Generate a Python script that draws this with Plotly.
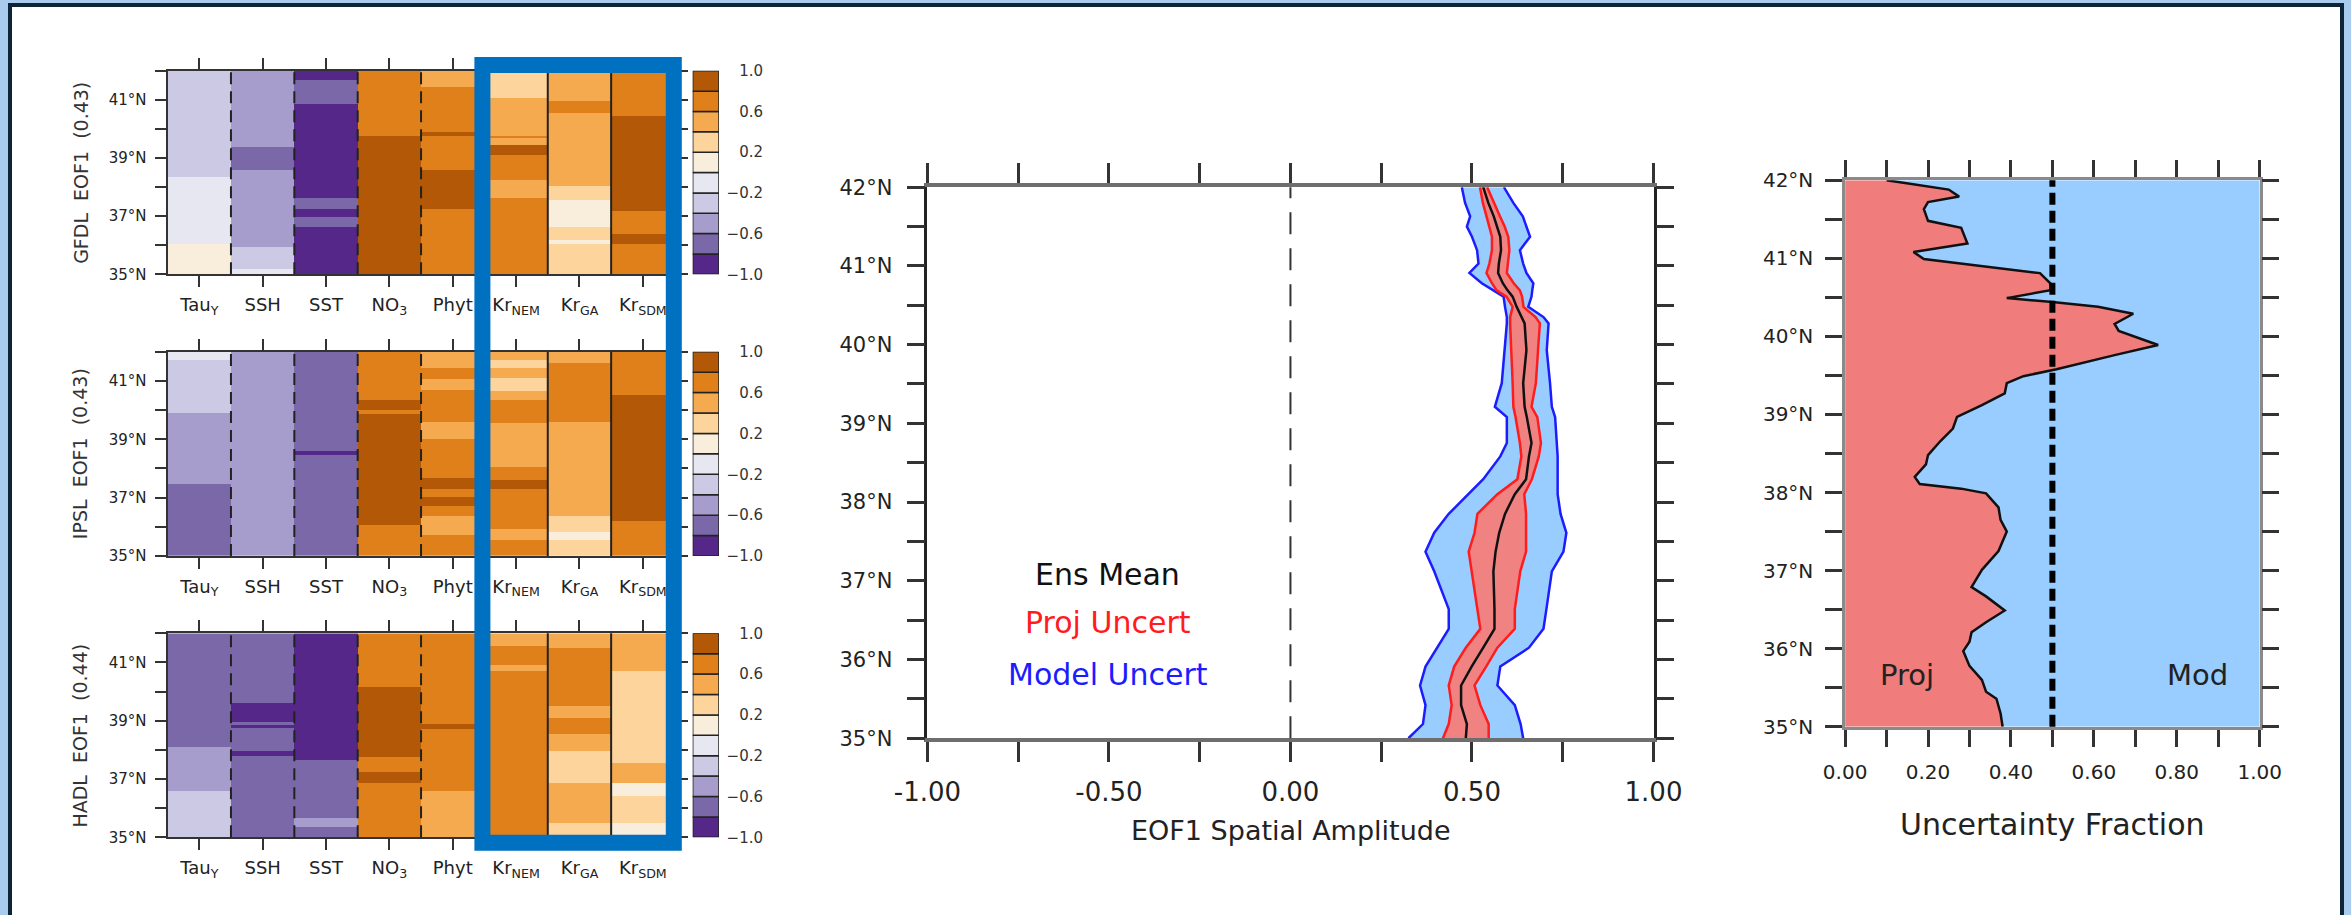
import numpy as np
import plotly.graph_objects as go

W, H = 2351, 915
FONT = "DejaVu Sans, Liberation Sans, sans-serif"

# ---------------- data ----------------
VAR_LABELS = ["Tau<sub>Y</sub>", "SSH", "SST", "NO<sub>3</sub>", "Phyt",
              "Kr<sub>NEM</sub>", "Kr<sub>GA</sub>", "Kr<sub>SDM</sub>"]
PANEL_TITLES = ["GFDL\u00a0 EOF1\u00a0 (0.43)", "IPSL\u00a0 EOF1\u00a0 (0.43)", "HADL\u00a0 EOF1\u00a0 (0.44)"]

BIN_EDGES = [-1.0, -0.8, -0.6, -0.4, -0.2, 0.0, 0.2, 0.4, 0.6, 0.8, 1.0]
BIN_COLORS = ["#542788", "#7b68a8", "#a79dcc", "#cbc9e3", "#e7e7f1",
              "#f9eddc", "#fdd49c", "#f6aa50", "#e0801a", "#b35806"]
CB_TICKS = [-1.0, -0.6, -0.2, 0.2, 0.6, 1.0]
CB_TICKTEXT = ["\u22121.0", "\u22120.6", "\u22120.2", "0.2", "0.6", "1.0"]

# each column: (latitude of each segment top, from 42N southwards), (loading of each segment)
GFDL_COLS = [
    ([42, 38.36, 36.06], [-0.3, -0.1, 0.1]),
    ([42, 39.42, 38.59, 35.95, 35.2], [-0.5, -0.7, -0.5, -0.3, -0.1]),
    ([42, 41.69, 40.85, 37.67, 37.27, 37.0, 36.64], [-0.9, -0.7, -0.9, -0.7, -0.9, -0.7, -0.9]),
    ([42, 39.74], [0.7, 0.9]),
    ([42, 41.46, 39.9, 39.76, 38.59, 37.27], [0.5, 0.7, 0.9, 0.7, 0.9, 0.7]),
    ([42, 41.04, 39.77, 39.69, 39.45, 39.1, 38.25, 37.67], [0.3, 0.5, 0.7, 0.5, 0.9, 0.7, 0.5, 0.7]),
    ([42, 40.94, 40.54, 38.07, 37.56, 36.64, 36.18, 36.06], [0.5, 0.7, 0.5, 0.3, 0.1, 0.3, 0.1, 0.3]),
    ([42, 40.43, 37.21, 36.41, 36.06], [0.7, 0.9, 0.7, 0.9, 0.7]),
]
IPSL_COLS = [
    ([42, 41.71, 39.91, 37.47], [-0.1, -0.3, -0.5, -0.7]),
    ([42], [-0.5]),
    ([42, 38.6, 38.47], [-0.7, -0.9, -0.7]),
    ([42, 40.34, 40.0, 39.85, 36.06], [0.7, 0.9, 0.7, 0.9, 0.7]),
    ([42, 41.43, 41.03, 40.69, 39.60, 38.98, 37.66, 37.32, 36.98, 36.69, 36.35, 35.72],
     [0.5, 0.7, 0.5, 0.7, 0.5, 0.7, 0.9, 0.7, 0.9, 0.7, 0.5, 0.7]),
    ([42, 41.71, 41.43, 41.09, 40.63, 40.34, 39.55, 38.06, 37.6, 37.32, 35.89, 35.55],
     [0.5, 0.3, 0.5, 0.3, 0.5, 0.7, 0.5, 0.7, 0.9, 0.7, 0.5, 0.7]),
    ([42, 41.6, 39.6, 36.35, 35.78, 35.57], [0.5, 0.7, 0.5, 0.3, 0.1, 0.3]),
    ([42, 40.52, 36.18], [0.7, 0.9, 0.7]),
]
HADL_COLS = [
    ([42, 38.11, 36.62], [-0.7, -0.5, -0.3]),
    ([42, 39.6, 38.97, 38.85, 38.77, 37.94, 37.82], [-0.7, -0.9, -0.7, -0.9, -0.7, -0.9, -0.7]),
    ([42, 37.66, 35.65, 35.36], [-0.9, -0.7, -0.5, -0.7]),
    ([42, 40.17, 37.77, 37.25, 36.85], [0.7, 0.9, 0.7, 0.9, 0.7]),
    ([42, 38.91, 38.68, 36.62], [0.7, 0.9, 0.7, 0.5]),
    ([42, 41.54, 40.91, 40.68], [0.5, 0.7, 0.5, 0.7]),
    ([42, 41.49, 39.48, 39.08, 38.57, 37.94, 36.85, 35.48], [0.5, 0.7, 0.5, 0.7, 0.5, 0.3, 0.5, 0.3]),
    ([42, 40.68, 37.54, 36.85, 36.39, 35.48], [0.5, 0.3, 0.5, 0.1, 0.3, 0.1]),
]

# middle panel: EOF1 spatial amplitude
MID_LAT = [42.00, 41.80, 41.63, 41.50, 41.37, 41.20, 41.03, 40.91, 40.78, 40.69, 40.61, 40.48,
           40.35, 40.27, 39.93, 39.51, 39.21, 39.08, 38.75, 38.58, 38.29, 38.10, 37.85, 37.61,
           37.37, 37.12, 36.64, 36.39, 36.15, 35.91, 35.67, 35.42, 35.18, 35.00]
MOD_LO = [0.472, 0.481, 0.495, 0.486, 0.500, 0.514, 0.518, 0.493, 0.527, 0.560, 0.587, 0.591,
          0.596, 0.596, 0.590, 0.582, 0.563, 0.596, 0.596, 0.578, 0.531, 0.491, 0.436, 0.396,
          0.372, 0.396, 0.436, 0.436, 0.404, 0.372, 0.357, 0.372, 0.365, 0.325]
PROJ_LO = [0.522, 0.530, 0.540, 0.548, 0.555, 0.555, 0.548, 0.540, 0.555, 0.568, 0.595, 0.612,
           0.605, 0.605, 0.609, 0.612, 0.614, 0.620, 0.632, 0.636, 0.625, 0.570, 0.515, 0.507,
           0.491, 0.499, 0.515, 0.523, 0.483, 0.451, 0.436, 0.444, 0.436, 0.420]
ENS_MEAN = [0.531, 0.545, 0.560, 0.568, 0.578, 0.580, 0.574, 0.572, 0.585, 0.598, 0.612, 0.623,
            0.638, 0.645, 0.650, 0.641, 0.645, 0.651, 0.664, 0.657, 0.649, 0.618, 0.591, 0.575,
            0.565, 0.559, 0.562, 0.562, 0.531, 0.499, 0.470, 0.470, 0.486, 0.483]
PROJ_HI = [0.542, 0.560, 0.577, 0.590, 0.600, 0.603, 0.598, 0.596, 0.615, 0.632, 0.638, 0.642,
           0.675, 0.687, 0.682, 0.676, 0.664, 0.680, 0.690, 0.684, 0.665, 0.644, 0.649, 0.649,
           0.649, 0.633, 0.618, 0.618, 0.570, 0.539, 0.507, 0.523, 0.546, 0.546]
MOD_HI = [0.588, 0.614, 0.640, 0.651, 0.660, 0.632, 0.641, 0.650, 0.669, 0.666, 0.664, 0.655,
          0.697, 0.711, 0.706, 0.715, 0.720, 0.729, 0.733, 0.736, 0.736, 0.736, 0.744, 0.760,
          0.752, 0.720, 0.705, 0.697, 0.657, 0.578, 0.570, 0.618, 0.634, 0.641]

# right panel: projection share of the uncertainty
FRAC_LAT = [42.00, 41.88, 41.79, 41.72, 41.63, 41.48, 41.39, 41.19, 41.08, 40.99, 40.81, 40.68,
            40.59, 40.49, 40.44, 40.38, 40.29, 40.16, 40.07, 39.89, 39.76, 39.58, 39.49, 39.40,
            39.27, 39.12, 38.97, 38.82, 38.66, 38.48, 38.36, 38.20, 38.11, 38.05, 37.99, 37.81,
            37.65, 37.50, 37.25, 37.01, 36.79, 36.67, 36.49, 36.34, 36.21, 36.09, 35.97, 35.78,
            35.60, 35.45, 35.36, 35.17, 35.00]
PROJ_FRAC = [0.10, 0.25, 0.275, 0.20, 0.19, 0.20, 0.28, 0.295, 0.165, 0.19, 0.47, 0.495,
             0.495, 0.39, 0.50, 0.61, 0.695, 0.65, 0.66, 0.755, 0.65, 0.51, 0.43, 0.39,
             0.385, 0.33, 0.27, 0.26, 0.23, 0.20, 0.195, 0.168, 0.18, 0.28, 0.34, 0.37,
             0.375, 0.39, 0.37, 0.33, 0.305, 0.34, 0.385, 0.34, 0.305, 0.30, 0.285, 0.30,
             0.33, 0.34, 0.365, 0.375, 0.38]
MOD_FRAC = [round(1 - p, 3) for p in PROJ_FRAC]

LAT_MAJOR_ODD = [35, 37, 39, 41]
LAT_MAJOR_ODD_TEXT = ["35\u00b0N", "37\u00b0N", "39\u00b0N", "41\u00b0N"]
LAT_MINOR_EVEN = [36, 38, 40, 42]
LAT_MAJOR = [35, 36, 37, 38, 39, 40, 41, 42]
LAT_MAJOR_TEXT = ["35\u00b0N", "36\u00b0N", "37\u00b0N", "38\u00b0N", "39\u00b0N", "40\u00b0N",
                  "41\u00b0N", "42\u00b0N"]
LAT_MINOR_HALF = [35.5, 36.5, 37.5, 38.5, 39.5, 40.5, 41.5]
MID_XMAJOR = [-1.0, -0.5, 0.0, 0.5, 1.0]
MID_XTEXT = ["-1.00", "-0.50", "0.00", "0.50", "1.00"]
MID_XMINOR = [-0.75, -0.25, 0.25, 0.75]
FR_MAJOR = [0.0, 0.2, 0.4, 0.6, 0.8, 1.0]
FR_TEXT = ["0.00", "0.20", "0.40", "0.60", "0.80", "1.00"]
FR_MINOR = [0.1, 0.3, 0.5, 0.7, 0.9]

# ---------------- helpers ----------------
def xdom(a, b):
    return [a / W, b / W]

def ydom(top, bot):
    return [1 - bot / H, 1 - top / H]

LAT_GRID = np.round(np.arange(35.025, 42.0, 0.05), 3)

def column_field(cols):
    z = np.zeros((len(LAT_GRID), len(cols)))
    for j, (tops, vals) in enumerate(cols):
        for i, lat in enumerate(LAT_GRID):
            k = sum(1 for t in tops if t >= lat) - 1
            z[i, j] = vals[k]
    return z

def minor(vals, ln, w, col):
    return dict(tickmode="array", tickvals=vals, ticks="outside", ticklen=ln, tickwidth=w,
                tickcolor=col, showgrid=False)

colorscale = []
for i, c in enumerate(BIN_COLORS):
    colorscale += [[i / 10, c], [(i + 1) / 10, c]]

fig = go.Figure()
layout = dict(width=W, height=H, margin=dict(l=0, r=0, t=0, b=0, pad=0, autoexpand=False),
              paper_bgcolor="#a8cbee", plot_bgcolor="white", showlegend=False,
              font=dict(family=FONT, color="#222"))
shapes, annotations = [], []

HM_X = (167.6, 674.5)
HM_Y = [(70.8, 274.3), (351.7, 556.0), (633.3, 837.3)]
CB_X = (692.7, 719.0)

for p, cols in enumerate([GFDL_COLS, IPSL_COLS, HADL_COLS]):
    i = p + 1
    xa, ya = ("x" if i == 1 else f"x{i}"), ("y" if i == 1 else f"y{i}")
    fig.add_trace(go.Heatmap(z=column_field(cols), x=list(range(8)), y=LAT_GRID,
                             colorscale=colorscale, zmin=-1, zmax=1, showscale=False,
                             xaxis=xa, yaxis=ya, hoverinfo="skip"))
    layout["xaxis" if i == 1 else f"xaxis{i}"] = dict(
        domain=xdom(*HM_X), range=[-0.5, 7.5], anchor=ya, tickmode="array",
        tickvals=list(range(8)), ticktext=VAR_LABELS, ticks="outside", ticklen=11,
        tickwidth=2, tickcolor="#333", mirror="allticks", showline=True, linecolor="#333",
        linewidth=2, showgrid=False, zeroline=False, tickfont=dict(size=18),
        ticklabelstandoff=2, automargin=False)
    layout["yaxis" if i == 1 else f"yaxis{i}"] = dict(
        domain=ydom(*HM_Y[p]), range=[35, 42], anchor=xa, tickmode="array",
        tickvals=LAT_MAJOR_ODD, ticktext=LAT_MAJOR_ODD_TEXT, ticks="outside", ticklen=11,
        tickwidth=2, tickcolor="#333", mirror="allticks", showline=True, linecolor="#333",
        linewidth=2, showgrid=False, zeroline=False, tickfont=dict(size=15),
        ticklabelstandoff=5, automargin=False, minor=minor(LAT_MINOR_EVEN, 11, 2, "#333"))
    # column separators
    for k in range(7):
        shapes.append(dict(type="line", xref=xa, yref=f"{ya} domain", x0=k + 0.5, x1=k + 0.5,
                           y0=0, y1=1,
                           line=dict(color="#222", width=2, dash=("12px,7px" if k < 5 else "solid"))))
    annotations.append(dict(text=PANEL_TITLES[p], xref="paper", yref="paper",
                            x=80.3 / W, y=1 - (HM_Y[p][0] + HM_Y[p][1]) / 2 / H,
                            textangle=-90, showarrow=False, font=dict(size=19, color="#333"),
                            xanchor="center", yanchor="middle"))
    # colour key as stacked bins
    j = i + 3
    fig.add_trace(go.Bar(x=[0] * 10, y=list(np.diff(BIN_EDGES)), base=BIN_EDGES[:-1], width=1,
                         marker=dict(color=BIN_COLORS, line=dict(color="#222", width=1.5)),
                         xaxis=f"x{j}", yaxis=f"y{j}", hoverinfo="skip"))
    layout[f"xaxis{j}"] = dict(domain=xdom(*CB_X), range=[-0.5, 0.5], anchor=f"y{j}",
                               visible=False, fixedrange=True, automargin=False)
    layout[f"yaxis{j}"] = dict(domain=ydom(*HM_Y[p]), range=[-1, 1], anchor="free",
                               position=763 / W, side="left", tickmode="array",
                               tickvals=CB_TICKS, ticktext=CB_TICKTEXT, ticks="",
                               showline=False, showgrid=False, zeroline=False,
                               tickfont=dict(size=15, color="#333"), automargin=False)

# highlight box around the Kr columns
shapes.append(dict(type="rect", xref="paper", yref="paper", x0=482.4 / W, x1=673.8 / W,
                   y0=1 - 842.8 / H, y1=1 - 65 / H, line=dict(color="#0070c0", width=16),
                   fillcolor="rgba(0,0,0,0)", layer="above"))

# ---------------- middle panel ----------------
MX, MY = "x7", "y7"
fig.add_trace(go.Scatter(x=MOD_LO, y=MID_LAT, mode="lines", line=dict(color="#1c1cff", width=2.5),
                         xaxis=MX, yaxis=MY, hoverinfo="skip"))
fig.add_trace(go.Scatter(x=MOD_HI, y=MID_LAT, mode="lines", line=dict(color="#1c1cff", width=2.5),
                         fill="tonextx", fillcolor="#99ccff", xaxis=MX, yaxis=MY, hoverinfo="skip"))
fig.add_trace(go.Scatter(x=PROJ_LO, y=MID_LAT, mode="lines", line=dict(color="#ff1c1c", width=2.5),
                         xaxis=MX, yaxis=MY, hoverinfo="skip"))
fig.add_trace(go.Scatter(x=PROJ_HI, y=MID_LAT, mode="lines", line=dict(color="#ff1c1c", width=2.5),
                         fill="tonextx", fillcolor="#f08282", xaxis=MX, yaxis=MY, hoverinfo="skip"))
fig.add_trace(go.Scatter(x=ENS_MEAN, y=MID_LAT, mode="lines", line=dict(color="#111", width=2.5),
                         xaxis=MX, yaxis=MY, hoverinfo="skip"))

layout["xaxis7"] = dict(domain=xdom(927.4, 1653.5), range=[-1, 1], anchor=MY, tickmode="array",
                        tickvals=MID_XMAJOR, ticktext=MID_XTEXT, ticks="outside", ticklen=20,
                        tickwidth=2.5, tickcolor="#333", mirror="allticks", showline=True,
                        linecolor="#6e6e6e", linewidth=4, showgrid=False, zeroline=False,
                        tickfont=dict(size=26, color="#222"), ticklabelstandoff=8,
                        automargin=False, minor=minor(MID_XMINOR, 20, 2.5, "#333"))
layout["yaxis7"] = dict(domain=ydom(187.2, 738.2), range=[35, 42], anchor=MX, tickmode="array",
                        tickvals=LAT_MAJOR, ticktext=LAT_MAJOR_TEXT, ticks="outside", ticklen=18,
                        tickwidth=2.5, tickcolor="#333", mirror="allticks", showline=True,
                        linecolor="#222", linewidth=2.5, showgrid=False, zeroline=False,
                        tickfont=dict(size=21, color="#222"), ticklabelstandoff=10,
                        automargin=False, minor=minor(LAT_MINOR_HALF, 18, 2.5, "#333"))
shapes.append(dict(type="line", xref=MX, yref="y7 domain", x0=0, x1=0, y0=0, y1=1,
                   line=dict(color="#333", width=2, dash="22px,14px")))
for txt, col, lat in [("Ens Mean", "#111", 37.08), ("Proj Uncert", "#ff1c1c", 36.47),
                      ("Model Uncert", "#1c1cff", 35.81)]:
    annotations.append(dict(text=txt, xref=MX, yref=MY, x=-0.503, y=lat, showarrow=False,
                            font=dict(size=30, color=col), xanchor="center", yanchor="middle"))
annotations.append(dict(text="EOF1 Spatial Amplitude", xref="paper", yref="paper",
                        x=1290.5 / W, y=1 - 830 / H, showarrow=False,
                        font=dict(size=27, color="#222"), xanchor="center", yanchor="middle"))

# ---------------- right panel ----------------
RX, RY = "x8", "y8"
fig.add_trace(go.Scatter(x=PROJ_FRAC, y=FRAC_LAT, mode="lines", orientation="h",
                         stackgroup="frac", fill="tozerox", fillcolor="#f07c7c",
                         line=dict(color="#111", width=2.5), xaxis=RX, yaxis=RY, hoverinfo="skip"))
fig.add_trace(go.Scatter(x=MOD_FRAC, y=FRAC_LAT, mode="lines", orientation="h",
                         stackgroup="frac", fill="tonextx", fillcolor="#99ccff",
                         line=dict(color="#99ccff", width=0), xaxis=RX, yaxis=RY, hoverinfo="skip"))

layout["xaxis8"] = dict(domain=xdom(1845.1, 2259.7), range=[0, 1], anchor=RY, tickmode="array",
                        tickvals=FR_MAJOR, ticktext=FR_TEXT, ticks="outside", ticklen=17,
                        tickwidth=3, tickcolor="#333", mirror="allticks", showline=True,
                        linecolor="#8a8a8a", linewidth=2.5, showgrid=False, zeroline=False,
                        tickfont=dict(size=20, color="#222"), ticklabelstandoff=8,
                        automargin=False, minor=minor(FR_MINOR, 17, 3, "#333"))
layout["yaxis8"] = dict(domain=ydom(180.2, 726.8), range=[35, 42], anchor=RX, tickmode="array",
                        tickvals=LAT_MAJOR, ticktext=LAT_MAJOR_TEXT, ticks="outside", ticklen=17,
                        tickwidth=3, tickcolor="#333", mirror="allticks", showline=True,
                        linecolor="#8a8a8a", linewidth=2.5, showgrid=False, zeroline=False,
                        tickfont=dict(size=20, color="#222"), ticklabelstandoff=8,
                        automargin=False, minor=minor(LAT_MINOR_HALF, 17, 3, "#333"))
shapes.append(dict(type="line", xref=RX, yref="y8 domain", x0=0.5, x1=0.5, y0=0, y1=1,
                   line=dict(color="#000", width=6, dash="12px,6px")))
annotations.append(dict(text="Proj", xref=RX, yref=RY, x=0.149, y=35.66, showarrow=False,
                        font=dict(size=29, color="#222"), xanchor="center", yanchor="middle"))
annotations.append(dict(text="Mod", xref=RX, yref=RY, x=0.85, y=35.66, showarrow=False,
                        font=dict(size=29, color="#222"), xanchor="center", yanchor="middle"))
annotations.append(dict(text="Uncertainty Fraction", xref="paper", yref="paper",
                        x=2052.4 / W, y=1 - 824 / H, showarrow=False,
                        font=dict(size=30, color="#222"), xanchor="center", yanchor="middle"))

# page frame
shapes.insert(0, dict(type="rect", xref="paper", yref="paper", x0=10 / W, x1=2342 / W,
                      y0=-0.05, y1=1 - 5 / H, line=dict(color="#0b2537", width=4),
                      fillcolor="white", layer="below"))

layout["shapes"] = shapes
layout["annotations"] = annotations
fig.update_layout(**layout)
fig.write_html("out.html")
